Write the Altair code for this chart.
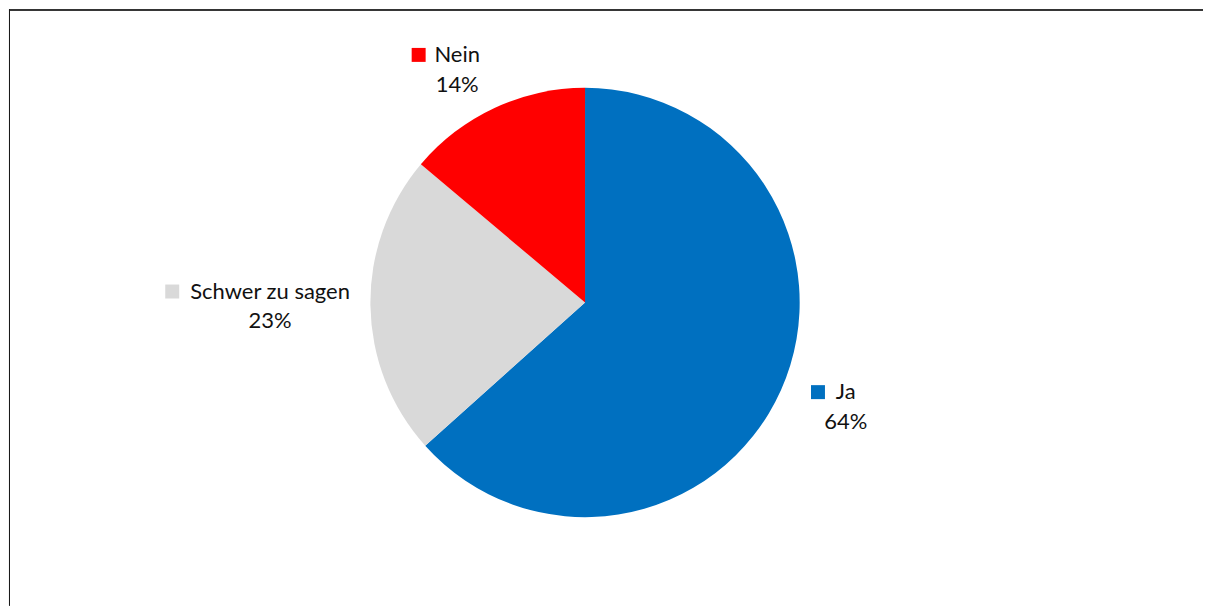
import altair as alt
import pandas as pd

categories = ["Ja", "Schwer zu sagen", "Nein"]
values = [64, 23, 14]
colors = ["#0070C0", "#D9D9D9", "#FF0000"]
order = [1, 2, 3]

df = pd.DataFrame({"cat": categories, "value": values, "order": order})
df["pct"] = [f"{v}%" for v in values]

W, H = 1196, 597
CX, CY = 577, 293.5
xs = alt.Scale(domain=[-CX, W - CX], nice=False, zero=False)
ys = alt.Scale(domain=[-(H - CY), CY], nice=False, zero=False)
cs = alt.Scale(domain=categories, range=colors)

base = alt.Chart(df).transform_joinaggregate(
    total="sum(value)"
).transform_window(
    cum="sum(value)", sort=[alt.SortField("order")], frame=[None, 0]
).transform_calculate(
    mid="2*PI*(datum.cum - datum.value/2)/datum.total",
    nw="length(datum.cat)*10.8",
).transform_calculate(
    hw="(datum.nw + 24)/2",
    s="sin(datum.mid)",
    c="cos(datum.mid)",
).transform_calculate(
    bx="234*datum.s + datum.hw*clamp(2*datum.s, -1, 1) + 34*datum.s*abs(datum.c)",
    by="234*datum.c + 23*clamp(datum.c, -1, 1)",
).transform_calculate(
    ax="datum.bx + 12",
    ny="datum.by + 15",
    py="datum.by - 15",
).transform_calculate(
    sqx="datum.ax - datum.nw/2 - 17",
)

pie = alt.Chart(df).mark_arc(outerRadius=215).encode(
    x=alt.XDatum(0, type="quantitative", scale=xs, axis=None),
    y=alt.YDatum(0, type="quantitative", scale=ys, axis=None),
    theta=alt.Theta("value:Q", stack=True),
    order=alt.Order("order:O"),
    color=alt.Color("cat:N", scale=cs, legend=None),
)

txt_style = dict(font="Lato", fontSize=22, color="#111111", baseline="middle", align="center")

names = base.mark_text(**txt_style).encode(
    x=alt.X("ax:Q", scale=xs, axis=None),
    y=alt.Y("ny:Q", scale=ys, axis=None),
    text="cat:N",
)
pcts = base.mark_text(**txt_style).encode(
    x=alt.X("ax:Q", scale=xs, axis=None),
    y=alt.Y("py:Q", scale=ys, axis=None),
    text="pct:N",
)
squares = base.mark_square(size=196, opacity=1, filled=True).encode(
    x=alt.X("sqx:Q", scale=xs, axis=None),
    y=alt.Y("ny:Q", scale=ys, axis=None),
    color=alt.Color("cat:N", scale=cs, legend=None),
)

top_border = alt.Chart(df).mark_rule(color="#1a1a1a", strokeWidth=1).encode(
    x=alt.value(0), x2=alt.value(W), y=alt.value(0.5)
)
left_border = alt.Chart(df).mark_rule(color="#1a1a1a", strokeWidth=1).encode(
    x=alt.value(0.5), y=alt.value(0), y2=alt.value(H)
)

chart = alt.layer(pie, names, pcts, squares, top_border, left_border).properties(
    width=W, height=H, padding=0, background="white"
).configure_view(stroke=None)

chart.save("out.html", embed_options={"renderer": "svg", "actions": False})
